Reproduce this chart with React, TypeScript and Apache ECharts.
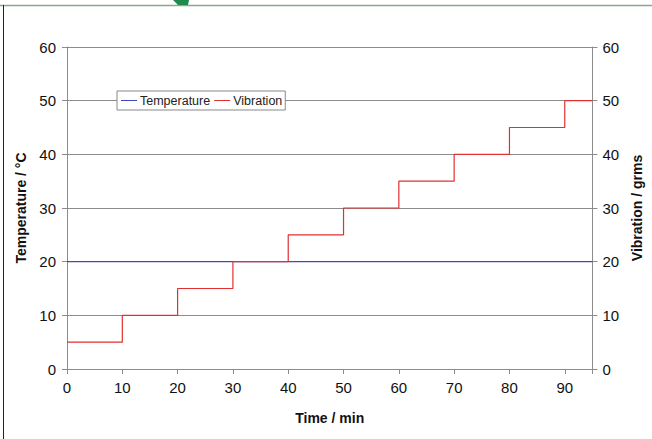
import React, { useEffect, useRef } from "react";
import * as echarts from "echarts";

const timeMin = [0, 10, 20, 30, 40, 50, 60, 70, 80, 90, 95];
const vibration = [5, 10, 15, 20, 25, 30, 35, 40, 45, 50, 50];
const temperature = [20, 20, 20, 20, 20, 20, 20, 20, 20, 20, 20];
const seriesNames = ["Temperature", "Vibration"];

export default function App() {
  const ref = useRef<HTMLDivElement>(null);
  useEffect(() => {
    const chart = echarts.init(ref.current!, null, { renderer: "svg" });
    const font = "Liberation Sans, Arial, sans-serif";
    const gridColor = "#8c8c8c";
    const titleStyle = { fontSize: 14, fontWeight: "bold", color: "#111", fontFamily: font };
    chart.setOption({
      animation: false,
      backgroundColor: "#ffffff",
      textStyle: { fontFamily: font },
      grid: { left: 67, right: 55, top: 47, bottom: 70, show: false },
      legend: {
        left: 117,
        top: 91,
        orient: "horizontal",
        backgroundColor: "#ffffff",
        borderColor: "#888888",
        borderWidth: 1,
        padding: [3, 3, 3, 4],
        itemGap: 4,
        itemWidth: 16,
        itemHeight: 1,
        icon: "rect",
        textStyle: { fontSize: 12.5, color: "#222", fontFamily: font, padding: [0, 0, 0, -2] },
        data: seriesNames,
      },
      xAxis: {
        type: "value",
        min: 0,
        max: 95,
        interval: 10,
        name: "Time / min",
        nameLocation: "middle",
        nameGap: 42,
        nameTextStyle: titleStyle,
        axisLine: { show: true, lineStyle: { color: gridColor, width: 1 } },
        axisTick: { show: true, length: 5, lineStyle: { color: gridColor } },
        axisLabel: {
          fontSize: 15,
          color: "#111",
          margin: 11,
          fontFamily: font,
          formatter: (v: number) => (v > 90 ? "" : String(v)),
        },
        splitLine: { show: false },
      },
      yAxis: [
        {
          type: "value",
          min: 0,
          max: 60,
          interval: 10,
          position: "left",
          name: "Temperature / °C",
          nameLocation: "middle",
          nameGap: 38,
          nameRotate: 90,
          nameTextStyle: titleStyle,
          axisLine: { show: true, lineStyle: { color: gridColor } },
          axisTick: { show: true, length: 5, lineStyle: { color: gridColor } },
          axisLabel: { fontSize: 15, color: "#111", margin: 11, fontFamily: font },
          splitLine: { show: true, lineStyle: { color: gridColor, width: 1 } },
        },
        {
          type: "value",
          min: 0,
          max: 60,
          interval: 10,
          position: "right",
          name: "Vibration / grms",
          nameLocation: "middle",
          nameGap: 33,
          nameRotate: 90,
          nameTextStyle: titleStyle,
          axisLine: { show: true, lineStyle: { color: gridColor } },
          axisTick: { show: true, length: 5, lineStyle: { color: gridColor } },
          axisLabel: { fontSize: 15, color: "#111", margin: 10, fontFamily: font },
          splitLine: { show: false },
        },
      ],
      series: [
        {
          name: seriesNames[0],
          type: "line",
          yAxisIndex: 0,
          data: timeMin.map((t, i) => [t, temperature[i]]),
          showSymbol: false,
          symbol: "none",
          lineStyle: { color: "#4646c0", width: 1.2 },
          itemStyle: { color: "#4646c0" },
          z: 3,
        },
        {
          name: seriesNames[1],
          type: "line",
          yAxisIndex: 1,
          step: "end",
          data: timeMin.map((t, i) => [t, vibration[i]]),
          showSymbol: false,
          symbol: "none",
          lineStyle: { color: "#e03030", width: 1.2 },
          itemStyle: { color: "#e03030" },
          z: 4,
        },
      ],
      graphic: [
        { type: "line", shape: { x1: 0, y1: 5.5, x2: 652, y2: 5.5 }, style: { stroke: "#8aa690", lineWidth: 1.5 } },
        { type: "line", shape: { x1: 3.5, y1: 5, x2: 3.5, y2: 439 }, style: { stroke: "#222", lineWidth: 1 } },
        {
          type: "polygon",
          shape: { points: [[173, 0], [189, 0], [188, 5], [178, 5]] },
          style: { fill: "#1e8a4c" },
        },
      ],
    });
    return () => chart.dispose();
  }, []);
  return <div ref={ref} style={{ width: 652, height: 439, position: "fixed", left: 0, top: 0 }} />;
}
